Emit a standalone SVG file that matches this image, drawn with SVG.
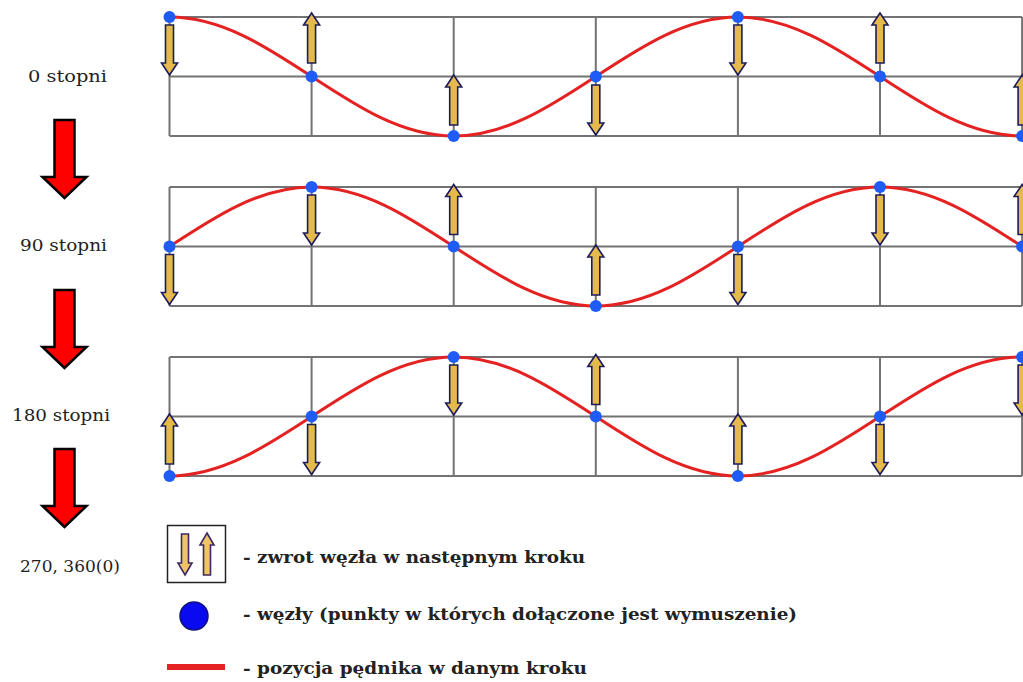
<svg xmlns="http://www.w3.org/2000/svg" xmlns:xlink="http://www.w3.org/1999/xlink" width="1023" height="682" viewBox="0 0 1023 682">
<style>
.grid{fill:none;stroke:#737373;stroke-width:2}
.wave{fill:none;stroke:#e52222;stroke-width:3;stroke-linecap:round}
.dot{fill:#1f5bf5}
.garr{fill:#e6b94c;stroke:#1c1c5c;stroke-width:1.6;stroke-linejoin:miter}
.larr{fill:#efc466;stroke:#3b2a66;stroke-width:1.6}
.big{fill:#ff0000;stroke:#000;stroke-width:2.5;stroke-linejoin:miter}
.lbl{font-family:"DejaVu Serif","Liberation Serif",serif;font-size:17px;fill:#222}
.leg{font-family:"DejaVu Serif","Liberation Serif",serif;font-size:17px;font-weight:bold;fill:#222}
</style>
<defs>
<path id="up" class="garr" d="M0,0 L8,12 L4,12 L4,50 L-4,50 L-4,12 L-8,12 Z"/>
<path id="dn" class="garr" d="M0,50 L8,38 L4,38 L4,0 L-4,0 L-4,38 L-8,38 Z"/>
<g id="gridcells">
<path class="grid" d="M169.5,0 H1022.1 M169.5,59.5 H1022.1 M169.5,119 H1022.1 M169.5,0 V119 M311.6,0 V119 M453.7,0 V119 M595.8,0 V119 M737.9,0 V119 M880,0 V119 M1022.1,0 V119"/>
</g>
</defs>
<rect width="1023" height="682" fill="#ffffff"/>

<g id="panel-0">
<use xlink:href="#gridcells" href="#gridcells" transform="translate(0,17)"/>
<path class="wave" d="M169.5,17 c51.43,0 95.76,29.020 142.1,59.5 c46.34,30.48 90.67,59.5 142.1,59.5 c51.43,0 95.76,-29.02 142.1,-59.5 c46.34,-30.48 90.67,-59.5 142.1,-59.5 c51.43,0 95.76,29.02 142.1,59.5 c46.34,30.48 90.67,59.5 142.1,59.5"/>
<use href="#dn" xlink:href="#dn" transform="translate(169.5,25)"/>
<use href="#up" xlink:href="#up" transform="translate(311.6,13)"/>
<use href="#up" xlink:href="#up" transform="translate(453.7,75)"/>
<use href="#dn" xlink:href="#dn" transform="translate(595.8,85)"/>
<use href="#dn" xlink:href="#dn" transform="translate(737.9,25)"/>
<use href="#up" xlink:href="#up" transform="translate(880,13)"/>
<use href="#up" xlink:href="#up" transform="translate(1022.1,75)"/>
<circle class="dot" cx="169.5" cy="17" r="6"/>
<circle class="dot" cx="311.6" cy="76.5" r="6"/>
<circle class="dot" cx="453.7" cy="136" r="6"/>
<circle class="dot" cx="595.8" cy="76.5" r="6"/>
<circle class="dot" cx="737.9" cy="17" r="6"/>
<circle class="dot" cx="880" cy="76.5" r="6"/>
<circle class="dot" cx="1022.1" cy="136" r="6"/>
</g>

<g id="panel-90">
<use xlink:href="#gridcells" href="#gridcells" transform="translate(0,187)"/>
<path class="wave" d="M169.5,246.5 c46.34,-30.48 90.67,-59.5 142.1,-59.5 c51.43,0 95.76,29.02 142.1,59.5 c46.34,30.48 90.67,59.5 142.1,59.5 c51.43,0 95.76,-29.02 142.1,-59.5 c46.34,-30.48 90.67,-59.5 142.1,-59.5 c51.43,0 95.76,29.02 142.1,59.5"/>
<use href="#dn" xlink:href="#dn" transform="translate(169.5,254.5)"/>
<use href="#dn" xlink:href="#dn" transform="translate(311.6,195)"/>
<use href="#up" xlink:href="#up" transform="translate(453.7,184.5)"/>
<use href="#up" xlink:href="#up" transform="translate(595.8,245)"/>
<use href="#dn" xlink:href="#dn" transform="translate(737.9,254.5)"/>
<use href="#dn" xlink:href="#dn" transform="translate(880,195)"/>
<use href="#up" xlink:href="#up" transform="translate(1022.1,184.5)"/>
<circle class="dot" cx="169.5" cy="246.5" r="6"/>
<circle class="dot" cx="311.6" cy="187" r="6"/>
<circle class="dot" cx="453.7" cy="246.5" r="6"/>
<circle class="dot" cx="595.8" cy="306" r="6"/>
<circle class="dot" cx="737.9" cy="246.5" r="6"/>
<circle class="dot" cx="880" cy="187" r="6"/>
<circle class="dot" cx="1022.1" cy="246.5" r="6"/>
</g>

<g id="panel-180">
<use xlink:href="#gridcells" href="#gridcells" transform="translate(0,357)"/>
<path class="wave" d="M169.5,476 c51.43,0 95.76,-29.02 142.1,-59.5 c46.34,-30.48 90.67,-59.5 142.1,-59.5 c51.43,0 95.76,29.02 142.1,59.5 c46.34,30.48 90.67,59.5 142.1,59.5 c51.43,0 95.76,-29.02 142.1,-59.5 c46.34,-30.48 90.67,-59.5 142.1,-59.5"/>
<use href="#up" xlink:href="#up" transform="translate(169.5,414)"/>
<use href="#dn" xlink:href="#dn" transform="translate(311.6,424.5)"/>
<use href="#dn" xlink:href="#dn" transform="translate(453.7,365)"/>
<use href="#up" xlink:href="#up" transform="translate(595.8,354.5)"/>
<use href="#up" xlink:href="#up" transform="translate(737.9,414)"/>
<use href="#dn" xlink:href="#dn" transform="translate(880,424.5)"/>
<use href="#dn" xlink:href="#dn" transform="translate(1022.1,365)"/>
<circle class="dot" cx="169.5" cy="476" r="6"/>
<circle class="dot" cx="311.6" cy="416.5" r="6"/>
<circle class="dot" cx="453.7" cy="357" r="6"/>
<circle class="dot" cx="595.8" cy="416.5" r="6"/>
<circle class="dot" cx="737.9" cy="476" r="6"/>
<circle class="dot" cx="880" cy="416.5" r="6"/>
<circle class="dot" cx="1022.1" cy="357" r="6"/>
</g>

<g id="labels">
<text class="lbl" x="28" y="82" textLength="79" lengthAdjust="spacingAndGlyphs">0 stopni</text>
<text class="lbl" x="20" y="251" textLength="87" lengthAdjust="spacingAndGlyphs">90 stopni</text>
<text class="lbl" x="12" y="421" textLength="98" lengthAdjust="spacingAndGlyphs">180 stopni</text>
<text class="lbl" x="20" y="572" textLength="100" lengthAdjust="spacingAndGlyphs">270, 360(0)</text>
</g>

<g id="connectors">
<path class="big" d="M54.5,120 H74.5 V177 H86.5 L64.5,198 L42.5,177 H54.5 Z"/>
<path class="big" d="M54.5,290 H74.5 V347 H86.5 L64.5,368 L42.5,347 H54.5 Z"/>
<path class="big" d="M54.5,449 H74.5 V506 H86.5 L64.5,527 L42.5,506 H54.5 Z"/>
</g>

<g id="legend">
<g id="legend-arrows">
<rect x="167.5" y="525.5" width="58" height="57" fill="#fff" stroke="#222" stroke-width="1.5"/>
<path class="larr" d="M185,575 L192,563 L188.5,563 L188.5,534 L181.5,534 L181.5,563 L178,563 Z"/>
<path class="larr" d="M207,533 L214,545 L210.5,545 L210.5,575 L203.5,575 L203.5,545 L200,545 Z"/>
<text class="leg" x="243" y="563" textLength="342" lengthAdjust="spacingAndGlyphs">- zwrot węzła w następnym kroku</text>
</g>
<g id="legend-nodes">
<circle cx="194" cy="616" r="14" fill="#0a0af0" stroke="#10107a" stroke-width="1.5"/>
<text class="leg" x="243" y="620" textLength="554" lengthAdjust="spacingAndGlyphs">- węzły (punkty w których dołączone jest wymuszenie)</text>
</g>
<g id="legend-curve">
<line x1="167" y1="667" x2="225" y2="667" stroke="#e52222" stroke-width="6"/>
<text class="leg" x="243" y="674" textLength="344" lengthAdjust="spacingAndGlyphs">- pozycja pędnika w danym kroku</text>
</g>
</g>
</svg>
